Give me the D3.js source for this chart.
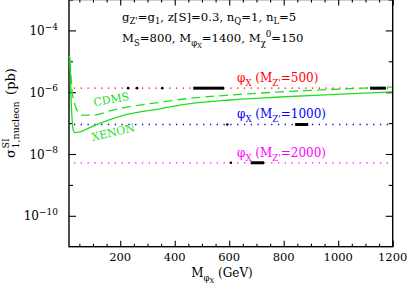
<!DOCTYPE html>
<html>
<head>
<meta charset="utf-8">
<script src="https://cdn.jsdelivr.net/npm/d3@7"></script>
<style>
  body { margin: 0; background: #fff; }
  text { font-family: "DejaVu Serif", serif; }
</style>
</head>
<body>
<svg id="chart" width="407" height="290"></svg>
<script>
// dark matter mass (GeV) and cross sections (pb)
var xenonMass  = [13, 16, 19, 23, 27, 34, 52, 100, 162, 225, 346, 419, 603, 786, 970, 1197];
var xenonSigma = [1.5e-5, 1.1e-5, 9e-7, 1.5e-7, 6.2e-8, 4.9e-8, 5.2e-8, 8.0e-8, 1.3e-7, 1.9e-7, 2.9e-7, 3.8e-7, 5.6e-7, 7.0e-7, 8.4e-7, 1.02e-6];
var cdmsMass   = [13, 16, 23, 34, 45, 60, 100, 162, 225, 346, 419, 603, 786, 970, 1197];
var cdmsSigma  = [1e-5, 7.6e-6, 1.2e-6, 3.9e-7, 2.3e-7, 1.8e-7, 1.8e-7, 2.5e-7, 3.3e-7, 4.7e-7, 5.8e-7, 8.1e-7, 1.02e-6, 1.22e-6, 1.47e-6];

// phi_X predictions for three Z' masses
var mzp        = [500, 1000, 2000];
var phiSigma   = [1.35e-6, 9.0e-8, 5.2e-9];
var phiStart   = 30;
// allowed mass ranges on each line, [from, to] in GeV
var allowed = [
  [[229, 229], [262, 262], [354, 354], [468, 581], [1117, 1175]],
  [[593, 593], [842, 890]],
  [[606, 606], [679, 728]]
];

var xMajor = [200, 400, 600, 800, 1000, 1200];
var yMajor = [1e-4, 1e-6, 1e-8, 1e-10];
var yMinor = [1e-3, 1e-5, 1e-7, 1e-9];

var colors = ["#ff0000", "#0000ff", "#ff00ff"];
var green = "#1fe01f";

var svg = d3.select("#chart");
var pLeft = 69, pRight = 392.7, pTop = -0.5, pBottom = 246.7;

var x = d3.scaleLinear().domain([12, 1200]).range([pLeft, pRight]);
var y = d3.scaleLog().domain([1e-11, 1e-3]).range([pBottom, pTop]);

// rich text helper: parts = [[text, level]], level -1 sub, -2 subsub, 1 sup
function rich(t, parts, size) {
  var prev = 0;
  parts.forEach(function (p) {
    var lv = p[1], shift = 0, fs = size;
    if (lv == -1) { shift = size * 0.3; fs = size * 0.72; }
    if (lv == -2) { shift = size * 0.5; fs = size * 0.55; }
    if (lv == 1)  { shift = -size * 0.45; fs = size * 0.75; }
    t.append("tspan")
      .attr("dy", shift - prev)
      .style("font-size", fs + "px")
      .text(p[0]);
    prev = shift;
  });
  return t;
}

// axes, ticks pointing inward
function axis(gen, tx, ty, vals, len) {
  svg.append("g")
    .attr("transform", "translate(" + tx + "," + ty + ")")
    .call(gen.tickValues(vals).tickSize(-len).tickSizeOuter(0).tickFormat(""))
    .call(function (g) { g.select(".domain").remove(); })
    .selectAll("line").attr("stroke", "#000").attr("stroke-width", 1.1);
}
var xMinor = d3.range(50, 1200, 50).filter(function (d) { return d % 200 != 0; });
axis(d3.axisBottom(x), 0, pBottom, xMajor, 6);
axis(d3.axisBottom(x), 0, pBottom, xMinor, 3);
axis(d3.axisTop(x), 0, pTop, xMajor, 6);
axis(d3.axisTop(x), 0, pTop, xMinor, 3);
axis(d3.axisLeft(y), pLeft, 0, yMajor, 7);
axis(d3.axisLeft(y), pLeft, 0, yMinor, 4);
axis(d3.axisRight(y), pRight, 0, yMajor, 7);
axis(d3.axisRight(y), pRight, 0, yMinor, 4);

// tick labels
svg.append("g").selectAll("text")
  .data(xMajor).enter().append("text")
  .attr("x", function (d) { return x(d); })
  .attr("y", 261)
  .attr("text-anchor", "middle")
  .style("font-size", "11.5px")
  .text(function (d) { return d; });

svg.append("g").selectAll("text")
  .data(yMajor).enter().append("text")
  .attr("x", 58)
  .attr("y", function (d) { return y(d) + 4.5; })
  .attr("text-anchor", "end")
  .each(function (d) {
    rich(d3.select(this), [["10", 0], ["\u2212" + (-Math.round(Math.log10(d))), 1]], 12);
  });

// frame
svg.append("rect")
  .attr("x", pLeft).attr("y", pTop)
  .attr("width", pRight - pLeft).attr("height", pBottom - pTop)
  .attr("fill", "none").attr("stroke", "#000").attr("stroke-width", 1.4);

var plot = svg.append("g");
var line = d3.line()
  .x(function (d) { return x(d[0]); })
  .y(function (d) { return y(d[1]); })
  .curve(d3.curveMonotoneX);

// phi_X dotted lines
mzp.forEach(function (m, i) {
  plot.append("line")
    .attr("x1", x(phiStart)).attr("x2", pRight)
    .attr("y1", y(phiSigma[i])).attr("y2", y(phiSigma[i]))
    .attr("stroke", colors[i]).attr("stroke-width", 1.3)
    .attr("stroke-dasharray", "1.3,5.5");
});

// experimental limits
plot.append("path")
  .datum(d3.zip(cdmsMass, cdmsSigma))
  .attr("d", line).attr("fill", "none")
  .attr("stroke", green).attr("stroke-width", 1.3)
  .attr("stroke-dasharray", "9,5");
plot.append("path")
  .datum(d3.zip(xenonMass, xenonSigma))
  .attr("d", line).attr("fill", "none")
  .attr("stroke", green).attr("stroke-width", 1.3);

// allowed regions in black
allowed.forEach(function (segs, i) {
  segs.forEach(function (s) {
    if (s[0] == s[1]) {
      plot.append("circle")
        .attr("cx", x(s[0])).attr("cy", y(phiSigma[i]))
        .attr("r", 1.3).attr("fill", "#000");
    } else {
      plot.append("line")
        .attr("x1", x(s[0])).attr("x2", x(s[1]))
        .attr("y1", y(phiSigma[i])).attr("y2", y(phiSigma[i]))
        .attr("stroke", "#000").attr("stroke-width", 3);
    }
  });
});

// line labels
var labelY = [82, 118, 157];
mzp.forEach(function (m, i) {
  var t = svg.append("text")
    .attr("x", 237).attr("y", labelY[i])
    .attr("fill", colors[i]);
  rich(t, [["\u03c6", 0], ["X", -1], [" (M", 0], ["Z'", -1], ["=" + m + ")", 0]], 12);
});

svg.append("text")
  .attr("transform", "translate(112,103) rotate(-10)")
  .attr("text-anchor", "middle").attr("fill", green)
  .style("font-size", "11px").text("CDMS");
svg.append("text")
  .attr("transform", "translate(114,136) rotate(-13)")
  .attr("text-anchor", "middle").attr("fill", green)
  .style("font-size", "11px").text("XENON");

// parameter text
rich(svg.append("text").attr("x", 122).attr("y", 20.5),
  [["g", 0], ["Z'", -1], ["=g", 0], ["1", -1], [", z[S]=0.3, n", 0], ["Q", -1],
   ["=1, n", 0], ["L", -1], ["=5", 0]], 11.7);
rich(svg.append("text").attr("x", 122).attr("y", 42),
  [["M", 0], ["S", -1], ["=800, M", 0], ["\u03c6", -1], ["X", -2], ["=1400, M", 0],
   ["\u03c7", -1], ["0", 1], ["=150", 0]], 11.7);

// axis titles
rich(svg.append("text").attr("x", 222).attr("y", 277).attr("text-anchor", "middle"),
  [["M", 0], ["\u03c6", -1], ["X", -2], [" (GeV)", 0]], 12);

var yt = svg.append("g");
var s1 = yt.append("text").style("font-size", "13px").text("\u03c3");
var w1 = s1.node().getComputedTextLength();
yt.append("text").attr("x", w1 + 0.5).attr("y", -6).style("font-size", "9.5px").text("SI");
var s2 = yt.append("text").attr("x", w1 + 0.5).attr("y", 4).style("font-size", "9.5px").text("1,nucleon");
var w2 = s2.node().getComputedTextLength();
var s3 = yt.append("text").attr("x", w1 + w2 + 7).style("font-size", "13px").text("(pb)");
var tot = w1 + w2 + 7 + s3.node().getComputedTextLength();
yt.attr("transform", "translate(15," + (113 + tot / 2) + ") rotate(-90)");
</script>
</body>
</html>
